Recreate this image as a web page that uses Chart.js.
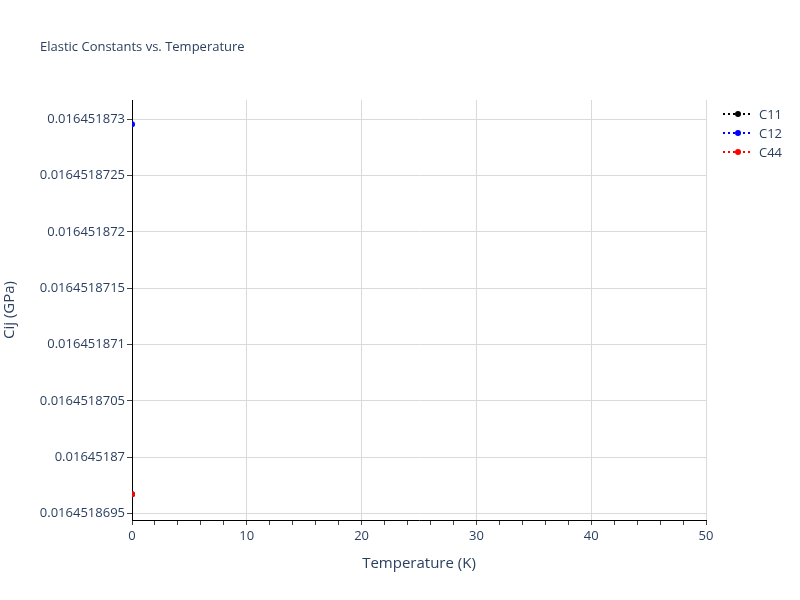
<!DOCTYPE html>
<html>
<head>
<meta charset="utf-8">
<script src="https://cdn.jsdelivr.net/npm/chart.js@4.4.1/dist/chart.umd.min.js"></script>
<style>
  html, body { margin: 0; padding: 0; background: #fff; }
  #wrap { width: 800px; height: 600px; position: relative; }
</style>
</head>
<body>
<div id="wrap"><canvas id="elasticChart" width="800" height="600"></canvas></div>
<script>
// data
const temperatures = [0]
const c11Values = [0.016451869672]
const c12Values = [0.016451872956]
const c44Values = [0.016451869672]

const seriesNames = ['C11', 'C12', 'C44']
const seriesColors = ['#000000', '#0000ff', '#ff0000']

const yTickValues = [0.0164518695, 0.01645187, 0.0164518705, 0.016451871, 0.0164518715, 0.016451872, 0.0164518725, 0.016451873]
const yTickLabels = ['0.0164518695', '0.01645187', '0.0164518705', '0.016451871', '0.0164518715', '0.016451872', '0.0164518725', '0.016451873']

const textColor = '#2a3f5f'
const gridColor = '#dadada'
const fontFamily = '"Open Sans", verdana, arial, sans-serif'

function toPoints(values) {
    return temperatures.map((t, i) => ({ x: t, y: values[i] }))
}

// title + plotly-like legend drawn on the canvas
const decorPlugin = {
    id: 'decor',
    afterDraw(chart) {
        const ctx = chart.ctx
        ctx.save()
        ctx.fillStyle = textColor
        ctx.font = '13px ' + fontFamily
        ctx.textBaseline = 'middle'
        ctx.textAlign = 'left'
        ctx.fillText('Elastic Constants vs. Temperature', 40, 47)

        chart.data.datasets.forEach((ds, i) => {
            const y = 114 + i * 19
            ctx.strokeStyle = ds.borderColor
            ctx.lineWidth = 2
            ctx.setLineDash([2, 3])
            ctx.beginPath()
            ctx.moveTo(723, y)
            ctx.lineTo(753, y)
            ctx.stroke()
            ctx.setLineDash([])
            ctx.fillStyle = ds.borderColor
            ctx.beginPath()
            ctx.arc(738, y, 3, 0, Math.PI * 2)
            ctx.fill()
            ctx.fillStyle = textColor
            ctx.font = '13px ' + fontFamily
            ctx.fillText(ds.label, 759, y + 1)
        })
        ctx.restore()
    }
}

const elasticChart = new Chart(document.getElementById('elasticChart'), {
    type: 'line',
    data: {
        datasets: [
            { label: seriesNames[0], data: toPoints(c11Values), order: 3 },
            { label: seriesNames[1], data: toPoints(c12Values), order: 2 },
            { label: seriesNames[2], data: toPoints(c44Values), order: 1 }
        ].map((ds, i) => Object.assign(ds, {
            borderColor: seriesColors[i],
            backgroundColor: seriesColors[i],
            borderDash: [2, 3],
            borderWidth: 2,
            pointRadius: 3,
            pointHoverRadius: 3,
            pointBorderWidth: 0,
            clip: 0
        }))
    },
    options: {
        responsive: false,
        animation: false,
        devicePixelRatio: 1,
        layout: { padding: { left: 0, right: 94, top: 100, bottom: 0 } },
        plugins: {
            legend: { display: false },
            tooltip: { enabled: false }
        },
        scales: {
            x: {
                type: 'linear',
                min: 0,
                max: 50,
                afterFit: (scale) => { scale.height = 80 },
                ticks: {
                    stepSize: 2,
                    autoSkip: false,
                    maxRotation: 0,
                    padding: 3,
                    color: textColor,
                    font: { family: fontFamily, size: 13 },
                    callback: (v) => (v % 10 === 0 ? v : '')
                },
                grid: {
                    color: (c) => (c.tick && c.tick.value % 10 === 0 && c.tick.value !== 0 ? gridColor : 'rgba(0,0,0,0)'),
                    tickColor: '#444',
                    tickLength: 5,
                    lineWidth: 1
                },
                border: { display: true, color: '#000', width: 1 },
                title: {
                    display: true,
                    text: 'Temperature (K)',
                    color: textColor,
                    padding: { top: 0, bottom: 27 },
                    font: { family: fontFamily, size: 15 }
                }
            },
            y: {
                type: 'linear',
                min: 0.016451869444,
                max: 0.016451873171,
                afterFit: (scale) => { scale.width = 132 },
                afterBuildTicks: (scale) => {
                    scale.ticks = yTickValues.map(v => ({ value: v }))
                },
                ticks: {
                    padding: 2,
                    color: textColor,
                    font: { family: fontFamily, size: 13 },
                    callback: (v, i) => yTickLabels[i]
                },
                grid: {
                    color: gridColor,
                    tickColor: '#444',
                    tickLength: 5,
                    lineWidth: 1
                },
                border: { display: true, color: '#000', width: 1 },
                title: {
                    display: true,
                    text: 'Cij (GPa)',
                    color: textColor,
                    padding: { top: 1, bottom: 0 },
                    font: { family: fontFamily, size: 15 }
                }
            }
        }
    },
    plugins: [decorPlugin]
});
</script>
</body>
</html>
